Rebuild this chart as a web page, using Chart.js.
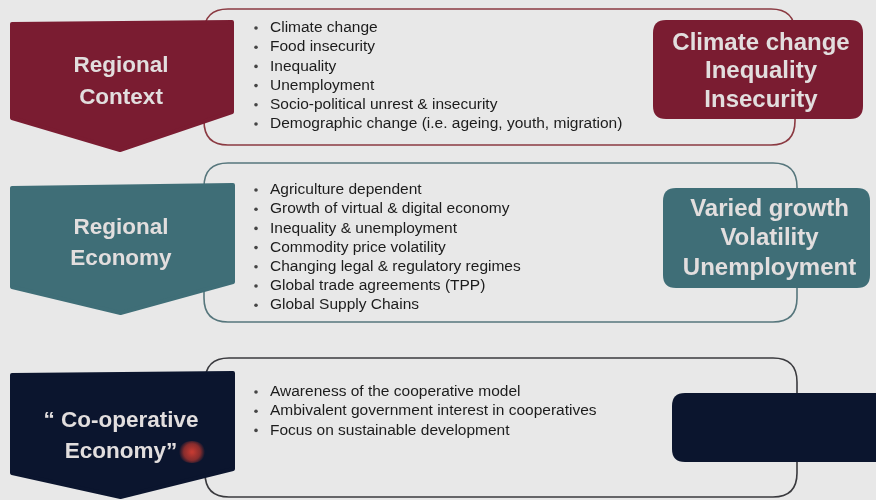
<!DOCTYPE html>
<html lang="en">

<head>
    <meta charset="UTF-8" />
    <title>Regional context / economy / co-operative economy</title>
    <script src="https://cdn.jsdelivr.net/npm/chart.js"></script>
    <style>
        html, body { margin: 0; padding: 0; background: #e8e8e8; }
        #wrap { width: 876px; height: 500px; }
    </style>
</head>

<body>
    <div id="wrap"><canvas id="diagram" width="876" height="500"></canvas></div>

    <script>
        // Text of the diagram, one list per row
        const rowTitles = [
            ['Regional', 'Context'],
            ['Regional', 'Economy'],
            ['\u201C Co-operative', 'Economy\u201D']
        ];
        const contextItems = [
            'Climate change',
            'Food insecurity',
            'Inequality',
            'Unemployment',
            'Socio-political unrest & insecurity',
            'Demographic change (i.e. ageing, youth, migration)'
        ];
        const economyItems = [
            'Agriculture dependent',
            'Growth of virtual & digital economy',
            'Inequality & unemployment',
            'Commodity price volatility',
            'Changing legal & regulatory regimes',
            'Global trade agreements (TPP)',
            'Global Supply Chains'
        ];
        const coopItems = [
            'Awareness of the cooperative model',
            'Ambivalent government interest in cooperatives',
            'Focus on sustainable development'
        ];
        const summaryContext = ['Climate change', 'Inequality', 'Insecurity'];
        const summaryEconomy = ['Varied growth', 'Volatility', 'Unemployment'];
        const summaryCoop = [];

        const rowItems = [contextItems, economyItems, coopItems];
        const rowSummaries = [summaryContext, summaryEconomy, summaryCoop];

        // colours
        const fillColors = ['#7a1c31', '#3f6e77', '#0b152e'];
        const lineColors = ['#8b3a42', '#56767c', '#3a3a3e'];

        // layout of each row, in the 876 x 500 value space of the hidden scales
        const layout = [
            {
                chev: { l: 12, r: 232, topL: 24, topR: 22, shL: 118, shR: 112, tip: 150 },
                box: { l: 204, r: 795, t: 9, b: 145 },
                list: { y0: 28, step: 19.2 },
                sum: { l: 653, r: 863, t: 20, b: 119, y0: 43, step: 28.5 },
                title: { y0: 66, step: 32 }
            },
            {
                chev: { l: 12, r: 233, topL: 188, topR: 185, shL: 287, shR: 282, tip: 313 },
                box: { l: 204, r: 797, t: 163, b: 322 },
                list: { y0: 190, step: 19.2 },
                sum: { l: 663, r: 870, t: 188, b: 288, y0: 209, step: 29.5 },
                title: { y0: 228, step: 31 }
            },
            {
                chev: { l: 12, r: 233, topL: 375, topR: 373, shL: 473, shR: 469, tip: 497 },
                box: { l: 205, r: 797, t: 358, b: 497 },
                list: { y0: 392, step: 19.2 },
                sum: { l: 672, r: 890, t: 393, b: 462 },
                title: { y0: 421, step: 31 }
            }
        ];

        function roundRect(ctx, x0, y0, x1, y1, r) {
            ctx.beginPath();
            ctx.moveTo(x0 + r, y0);
            ctx.lineTo(x1 - r, y0);
            ctx.quadraticCurveTo(x1, y0, x1, y0 + r);
            ctx.lineTo(x1, y1 - r);
            ctx.quadraticCurveTo(x1, y1, x1 - r, y1);
            ctx.lineTo(x0 + r, y1);
            ctx.quadraticCurveTo(x0, y1, x0, y1 - r);
            ctx.lineTo(x0, y0 + r);
            ctx.quadraticCurveTo(x0, y0, x0 + r, y0);
            ctx.closePath();
        }

        const diagramPlugin = {
            id: 'diagram',
            afterDraw(chart) {
                const ctx = chart.ctx;
                const sx = chart.scales.x, sy = chart.scales.y;
                const X = v => sx.getPixelForValue(v);
                const Y = v => sy.getPixelForValue(v);

                ctx.save();
                layout.forEach((row, i) => {
                    // outline box behind everything
                    const b = row.box;
                    ctx.lineWidth = 1.6;
                    ctx.strokeStyle = lineColors[i];
                    roundRect(ctx, X(b.l), Y(b.t), X(b.r), Y(b.b), 24);
                    ctx.stroke();

                    // chevron
                    const c = row.chev;
                    const mid = (c.l + c.r) / 2 - 2;
                    ctx.beginPath();
                    ctx.moveTo(X(c.l), Y(c.topL));
                    ctx.lineTo(X(c.r), Y(c.topR));
                    ctx.lineTo(X(c.r), Y(c.shR));
                    ctx.lineTo(X(mid), Y(c.tip));
                    ctx.lineTo(X(c.l), Y(c.shL));
                    ctx.closePath();
                    ctx.fillStyle = fillColors[i];
                    ctx.strokeStyle = fillColors[i];
                    ctx.lineJoin = 'round';
                    ctx.lineWidth = 4;
                    ctx.fill();
                    ctx.stroke();

                    // summary box
                    const s = row.sum;
                    roundRect(ctx, X(s.l), Y(s.t), X(s.r), Y(s.b), 13);
                    ctx.fillStyle = fillColors[i];
                    ctx.fill();

                    // chevron title
                    ctx.fillStyle = '#e2dede';
                    ctx.textAlign = 'center';
                    ctx.textBaseline = 'middle';
                    ctx.font = 'bold 22.5px "Liberation Sans", Arial, sans-serif';
                    rowTitles[i].forEach((t, k) => {
                        ctx.fillText(t, X(121), Y(row.title.y0 + k * row.title.step));
                    });

                    // summary lines
                    ctx.font = 'bold 24px "Liberation Sans", Arial, sans-serif';
                    rowSummaries[i].forEach((t, k) => {
                        ctx.fillText(t, X((s.l + s.r) / 2 + 3), Y(s.y0 + k * s.step));
                    });

                    // bullet list
                    ctx.textAlign = 'left';
                    ctx.font = '15.5px "Liberation Sans", Arial, sans-serif';
                    rowItems[i].forEach((t, k) => {
                        const y = Y(row.list.y0 + k * row.list.step);
                        ctx.fillStyle = '#444';
                        ctx.beginPath();
                        ctx.arc(X(256), y, 1.8, 0, Math.PI * 2);
                        ctx.fill();
                        ctx.fillStyle = '#1c1c1c';
                        ctx.fillText(t, X(270), y);
                    });
                });

                // red smudge next to the last title
                const g = ctx.createRadialGradient(X(192), Y(452), 1, X(192), Y(452), 13);
                g.addColorStop(0, 'rgba(205,60,50,0.95)');
                g.addColorStop(0.6, 'rgba(190,55,45,0.7)');
                g.addColorStop(1, 'rgba(190,55,45,0)');
                ctx.fillStyle = g;
                ctx.beginPath();
                ctx.ellipse(X(192), Y(452), 14, 11, 0, 0, Math.PI * 2);
                ctx.fill();
                ctx.restore();
            }
        };

        new Chart(document.getElementById('diagram'), {
            type: 'scatter',
            data: { datasets: [{ data: [] }] },
            options: {
                responsive: false,
                animation: false,
                layout: { padding: 0 },
                scales: {
                    x: { type: 'linear', min: 0, max: 876, display: false },
                    y: { type: 'linear', min: 0, max: 500, reverse: true, display: false }
                },
                plugins: { legend: { display: false }, tooltip: { enabled: false } }
            },
            plugins: [diagramPlugin]
        });
    </script>
</body>

</html>
